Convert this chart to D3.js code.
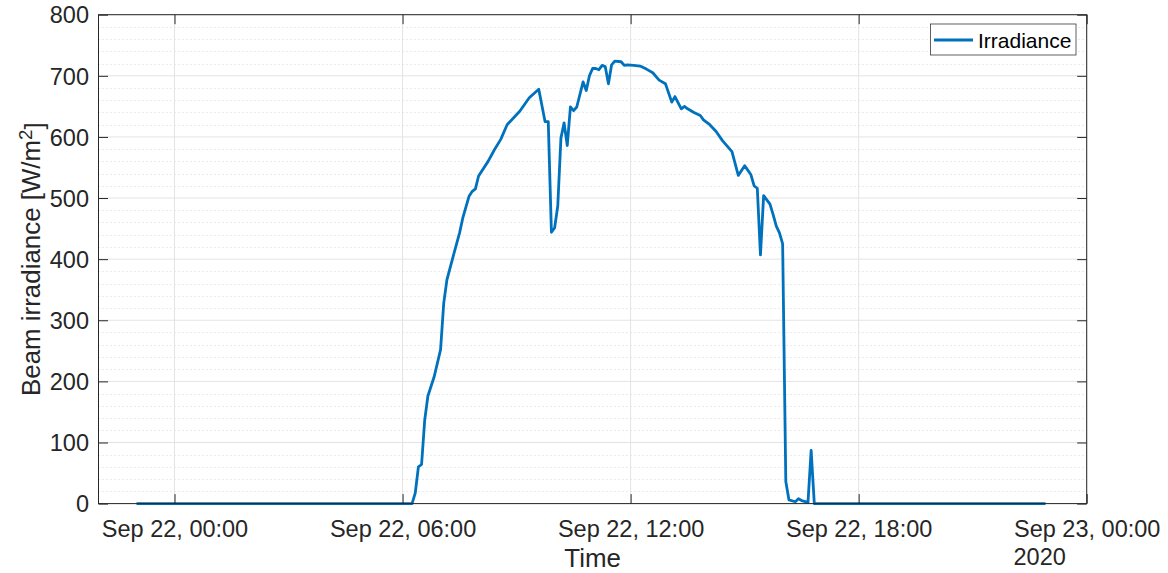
<!DOCTYPE html>
<html>
<head>
<meta charset="utf-8">
<script src="https://cdn.jsdelivr.net/npm/d3@7"></script>
<style>
  html, body { margin: 0; padding: 0; background: #ffffff; }
  svg { display: block; font-family: "Liberation Sans", Arial, Helvetica, sans-serif; }
</style>
</head>
<body>
<svg id="chart" width="1168" height="573"></svg>
<script>
// Beam irradiance measurements, 22 Sep 2020 (UTC timestamps)
const times = [
  "2020-09-21T23:00", "2020-09-22T06:15", "2020-09-22T06:20", "2020-09-22T06:25",
  "2020-09-22T06:30", "2020-09-22T06:35", "2020-09-22T06:40", "2020-09-22T06:50",
  "2020-09-22T07:00", "2020-09-22T07:05", "2020-09-22T07:10", "2020-09-22T07:20",
  "2020-09-22T07:30", "2020-09-22T07:35", "2020-09-22T07:45", "2020-09-22T07:50",
  "2020-09-22T07:55", "2020-09-22T08:00", "2020-09-22T08:15", "2020-09-22T08:25",
  "2020-09-22T08:35", "2020-09-22T08:45", "2020-09-22T09:05", "2020-09-22T09:20",
  "2020-09-22T09:35", "2020-09-22T09:45", "2020-09-22T09:50", "2020-09-22T09:55",
  "2020-09-22T10:00", "2020-09-22T10:05", "2020-09-22T10:10", "2020-09-22T10:15",
  "2020-09-22T10:20", "2020-09-22T10:25", "2020-09-22T10:30", "2020-09-22T10:35",
  "2020-09-22T10:45", "2020-09-22T10:50", "2020-09-22T10:55", "2020-09-22T11:00",
  "2020-09-22T11:05", "2020-09-22T11:10", "2020-09-22T11:15", "2020-09-22T11:20",
  "2020-09-22T11:25", "2020-09-22T11:30", "2020-09-22T11:35", "2020-09-22T11:45",
  "2020-09-22T11:50", "2020-09-22T11:55", "2020-09-22T12:05", "2020-09-22T12:15",
  "2020-09-22T12:25", "2020-09-22T12:35", "2020-09-22T12:45", "2020-09-22T12:55",
  "2020-09-22T13:05", "2020-09-22T13:10", "2020-09-22T13:20", "2020-09-22T13:25",
  "2020-09-22T13:30", "2020-09-22T13:40", "2020-09-22T13:50", "2020-09-22T13:55",
  "2020-09-22T14:05", "2020-09-22T14:15", "2020-09-22T14:25", "2020-09-22T14:40",
  "2020-09-22T14:50", "2020-09-22T15:00", "2020-09-22T15:10", "2020-09-22T15:15",
  "2020-09-22T15:20", "2020-09-22T15:25", "2020-09-22T15:30", "2020-09-22T15:40",
  "2020-09-22T15:45", "2020-09-22T15:50", "2020-09-22T15:55", "2020-09-22T16:00",
  "2020-09-22T16:05", "2020-09-22T16:10", "2020-09-22T16:20", "2020-09-22T16:25",
  "2020-09-22T16:30", "2020-09-22T16:40", "2020-09-22T16:45", "2020-09-22T16:50",
  "2020-09-22T22:55"
];
const irradiance = [
  0, 0, 17, 60,
  64, 137, 176, 208,
  252, 328, 366, 405,
  443, 467, 503, 511,
  515, 536, 560, 579,
  596, 620, 642, 664,
  678, 625, 625, 444,
  451, 487, 598, 623,
  586, 649, 643, 649,
  690, 676, 700, 712,
  712, 710, 717, 715,
  687, 718, 724, 723,
  717, 718, 717, 716,
  711, 705, 693, 687,
  657, 666, 646, 650,
  646, 640, 635, 628,
  620, 609, 594, 576,
  537, 553, 538, 520,
  516, 407, 504, 490,
  473, 454, 443, 425,
  36, 6, 3, 8,
  5, 2, 87, 0,
  0
];

// Axis ticks
const xTickTimes = ["2020-09-22T00:00", "2020-09-22T06:00", "2020-09-22T12:00", "2020-09-22T18:00", "2020-09-23T00:00"];
const xTickLabels = ["Sep 22, 00:00", "Sep 22, 06:00", "Sep 22, 12:00", "Sep 22, 18:00", "Sep 23, 00:00"];
const xYearLabel = "2020";
const yTicks = [0, 100, 200, 300, 400, 500, 600, 700, 800];
const yMinorTicks = d3.range(0, 801, 20).filter(v => v % 100 !== 0);

const xDomain = ["2020-09-21T22:00", "2020-09-23T00:00"];
const yDomain = [0, 800];

const parse = d3.utcParse("%Y-%m-%dT%H:%M");
const data = times.map((t, i) => ({ t: parse(t), v: irradiance[i] }));

const plot = { left: 98.5, right: 1086.7, top: 14.7, bottom: 503.6 };
const axisColor = "#262626";
const lineColor = "#0072BD";

const svg = d3.select("#chart");

const x = d3.scaleUtc().domain(xDomain.map(parse)).range([plot.left, plot.right]);
const y = d3.scaleLinear().domain(yDomain).range([plot.bottom, plot.top]);

// Minor horizontal grid (dotted)
svg.append("g").selectAll("line").data(yMinorTicks).join("line")
  .attr("x1", plot.left).attr("x2", plot.right)
  .attr("y1", d => Math.round(y(d)) + 0.5).attr("y2", d => Math.round(y(d)) + 0.5)
  .attr("stroke", "#d6d6d6").attr("stroke-width", 1)
  .attr("stroke-dasharray", "1,3");

// Major grid
const gridG = svg.append("g").attr("stroke", "#e3e3e3").attr("stroke-width", 1);
gridG.selectAll("line.h").data(yTicks).join("line").attr("class", "h")
  .attr("x1", plot.left).attr("x2", plot.right)
  .attr("y1", d => y(d)).attr("y2", d => y(d));
gridG.selectAll("line.v").data(xTickTimes.map(parse)).join("line").attr("class", "v")
  .attr("x1", d => x(d)).attr("x2", d => x(d))
  .attr("y1", plot.top).attr("y2", plot.bottom);

// Irradiance line
const line = d3.line().x(d => x(d.t)).y(d => y(d.v));
svg.append("path").datum(data)
  .attr("fill", "none")
  .attr("stroke", lineColor)
  .attr("stroke-width", 2.8)
  .attr("stroke-linejoin", "round")
  .attr("d", line);

// Axes with inward ticks (box on)
const fontSize = 23.5;
const tickLen = 9.5;

const xAxis = d3.axisBottom(x)
  .tickValues(xTickTimes.map(parse))
  .tickSize(-tickLen)
  .tickFormat((d, i) => xTickLabels[i]);
const xg = svg.append("g").attr("transform", `translate(0,${plot.bottom})`).call(xAxis);
xg.select(".domain").remove();
xg.selectAll(".tick line").attr("stroke", axisColor);
xg.selectAll(".tick text")
  .attr("y", 33)
  .attr("dy", 0)
  .attr("fill", axisColor)
  .style("font-size", fontSize + "px")
  .style("font-family", "'Liberation Sans', Arial, sans-serif");

// Year label under the last tick label, aligned with its left edge
const lastTick = xg.selectAll(".tick text").nodes().slice(-1)[0];
const lastBox = lastTick.getBBox();
const lastX = x(parse(xTickTimes[xTickTimes.length - 1]));
svg.append("text")
  .attr("x", lastX + lastBox.x)
  .attr("y", plot.bottom + 61.5)
  .attr("fill", axisColor)
  .style("font-size", fontSize + "px")
  .text(xYearLabel);

// Top mirrored ticks
const xTop = d3.axisTop(x).tickValues(xTickTimes.map(parse)).tickSize(-tickLen).tickFormat("");
const xtg = svg.append("g").attr("transform", `translate(0,${plot.top})`).call(xTop);
xtg.select(".domain").remove();
xtg.selectAll(".tick line").attr("stroke", axisColor);

const yAxis = d3.axisLeft(y).tickValues(yTicks).tickSize(-tickLen).tickFormat(d3.format("d"));
const yg = svg.append("g").attr("transform", `translate(${plot.left},0)`).call(yAxis);
yg.select(".domain").remove();
yg.selectAll(".tick line").attr("stroke", axisColor);
yg.selectAll(".tick text")
  .attr("x", -9.5)
  .attr("dy", "0.35em")
  .attr("fill", axisColor)
  .style("font-size", fontSize + "px")
  .style("font-family", "'Liberation Sans', Arial, sans-serif");

const yRight = d3.axisRight(y).tickValues(yTicks).tickSize(-tickLen).tickFormat("");
const yrg = svg.append("g").attr("transform", `translate(${plot.right},0)`).call(yRight);
yrg.select(".domain").remove();
yrg.selectAll(".tick line").attr("stroke", axisColor);

// Axes box
svg.append("rect")
  .attr("x", plot.left).attr("y", plot.top)
  .attr("width", plot.right - plot.left).attr("height", plot.bottom - plot.top)
  .attr("fill", "none").attr("stroke", axisColor).attr("stroke-width", 1);

// Axis titles
const labelSize = 25.9;
svg.append("text")
  .attr("x", (plot.left + plot.right) / 2)
  .attr("y", 567)
  .attr("text-anchor", "middle")
  .attr("fill", axisColor)
  .style("font-size", labelSize + "px")
  .text("Time");

const yTitle = svg.append("text")
  .attr("transform", `translate(40,${(plot.top + plot.bottom) / 2}) rotate(-90)`)
  .attr("text-anchor", "middle")
  .attr("fill", axisColor)
  .style("font-size", labelSize + "px");
yTitle.append("tspan").text("Beam irradiance [W/m");
yTitle.append("tspan").attr("dy", "-0.45em").style("font-size", (labelSize * 0.72) + "px").text("2");
yTitle.append("tspan").attr("dy", "0.45em").text("]");

// Legend
const legend = svg.append("g").attr("transform", "translate(930.5,24)");
legend.append("rect")
  .attr("width", 145.5).attr("height", 31)
  .attr("fill", "#ffffff")
  .attr("stroke", "#3a3a3a").attr("stroke-width", 0.8);
legend.append("line")
  .attr("x1", 3.5).attr("x2", 42.5).attr("y1", 16).attr("y2", 16)
  .attr("stroke", lineColor).attr("stroke-width", 2.8);
legend.append("text")
  .attr("x", 47.5).attr("y", 16).attr("dy", "0.36em")
  .attr("fill", "#000000")
  .style("font-size", "21px")
  .text("Irradiance");
</script>
</body>
</html>
